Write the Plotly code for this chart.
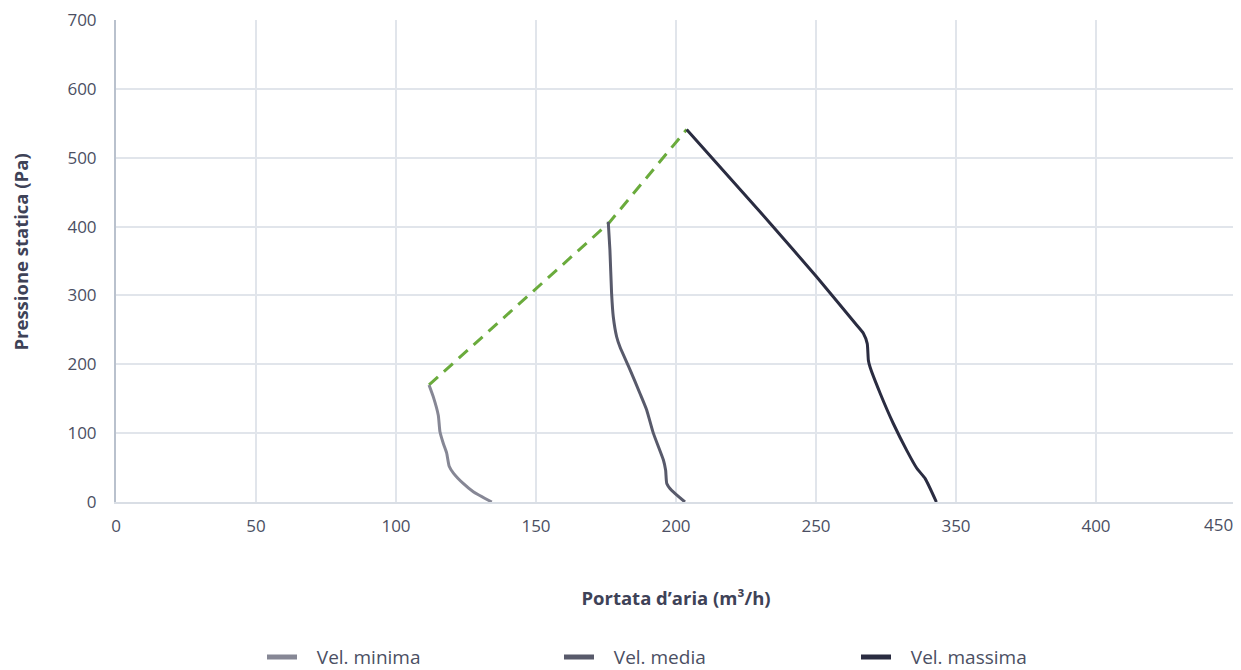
import plotly.graph_objects as go

# Data (x: portata in axis units, y: pressione statica Pa)
min_x = [111.8, 113.3, 115.1, 115.7, 116.9, 118.1, 119.0, 120.5, 124.0, 127.6, 134.2]
min_y = [170, 153, 126, 102, 85, 71, 52, 42, 27, 15, 0]

med_x = [175.8, 176.4, 177.0, 177.6, 178.8, 180.0, 183.6, 187.1, 189.5, 191.9, 195.5, 196.3, 196.7, 198.4, 203.2]
med_y = [407, 366, 303, 269, 240, 225, 192, 158, 134, 100, 61, 46, 27, 17, 0]

max_x = [203.8, 233.6, 250.2, 264.5, 266.9, 268.3, 268.7, 269.3, 272.9, 277.6, 282.4, 286.0, 289.0, 293.0]
max_y = [541, 405, 327, 257, 245, 230, 206, 196, 158, 114, 75, 49, 34, 0]

lim_x = [111.8, 176.0, 203.8]
lim_y = [170, 405, 541]

x_tickvals = [0, 50, 100, 150, 200, 250, 300, 350, 400]
x_ticktext = ["0", "50", "100", "150", "200", "250", "350", "400", "450"]
y_tickvals = [0, 100, 200, 300, 400, 500, 600, 700]

series_names = ["Vel. minima", "Vel. media", "Vel. massima"]
series_colors = ["#868795", "#585a6b", "#2a2c41"]

x_title = "<b>Portata d’aria (m³/h)</b>"
y_title = "<b>Pressione statica (Pa)</b>"

FONT = "Open Sans"
# last label drawn as annotation so it stays inside the figure
axis_ticktext = x_ticktext[:-1] + [""]

fig = go.Figure()
fig.add_trace(go.Scatter(x=lim_x, y=lim_y, mode="lines", showlegend=False,
                         line=dict(color="#6aab3c", width=3, dash="12px,8px")))
for xs, ys, name, col in zip([min_x, med_x, max_x], [min_y, med_y, max_y], series_names, series_colors):
    fig.add_trace(go.Scatter(x=xs, y=ys, mode="lines", name=name, showlegend=False,
                             line=dict(color=col, width=3, shape="spline", smoothing=0.5)))
# legend entries with thicker symbols
for name, col in zip(series_names, series_colors):
    fig.add_trace(go.Scatter(x=[None], y=[None], mode="lines", name="\u00a0\u00a0\u00a0" + name,
                             line=dict(color=col, width=5)))

fig.add_annotation(x=x_tickvals[-1], xref="x", y=0, yref="paper",
                   text=x_ticktext[-1], showarrow=False,
                   xanchor="right", yanchor="top", xshift=-1, yshift=-9,
                   font=dict(family=FONT, size=17, color="#4b4f63"))
fig.add_annotation(x=-0.0855, xref="paper", y=0.518, yref="paper",
                   text=y_title, showarrow=False, textangle=-90,
                   xanchor="center", yanchor="middle",
                   font=dict(family=FONT, size=18.5, color="#3e4257"))

fig.update_layout(
    width=1233, height=662,
    margin=dict(l=108, r=5, t=12, b=168, autoexpand=False),
    paper_bgcolor="white", plot_bgcolor="white",
    font=dict(family=FONT, color="#4b4f63", size=17),
    legend=dict(orientation="h", xref="container", yref="paper",
                x=0.206, y=-0.322, xanchor="left", yanchor="middle",
                entrywidth=252, entrywidthmode="pixels",
                font=dict(size=19, color="#4b4f63")),
    xaxis=dict(range=[0, 400], tickvals=x_tickvals, ticktext=axis_ticktext,
               showgrid=True, gridcolor="#e1e5eb", gridwidth=2,
               showline=True, linecolor="#d9dee5", linewidth=2,
               zeroline=False, ticks="", ticklabelstandoff=8, automargin=False,
               ticklabeloverflow="allow",
               title=dict(text=x_title, standoff=56,
                          font=dict(size=18.5, color="#3e4257"))),
    yaxis=dict(range=[0, 700], tickvals=y_tickvals,
               showgrid=True, gridcolor="#e1e5eb", gridwidth=2,
               showline=True, linecolor="#b9c1cd", linewidth=2,
               zeroline=False, ticks="", ticklabelstandoff=14, automargin=False,
               ticklabeloverflow="allow"),
)

fig.write_html("out.html")
